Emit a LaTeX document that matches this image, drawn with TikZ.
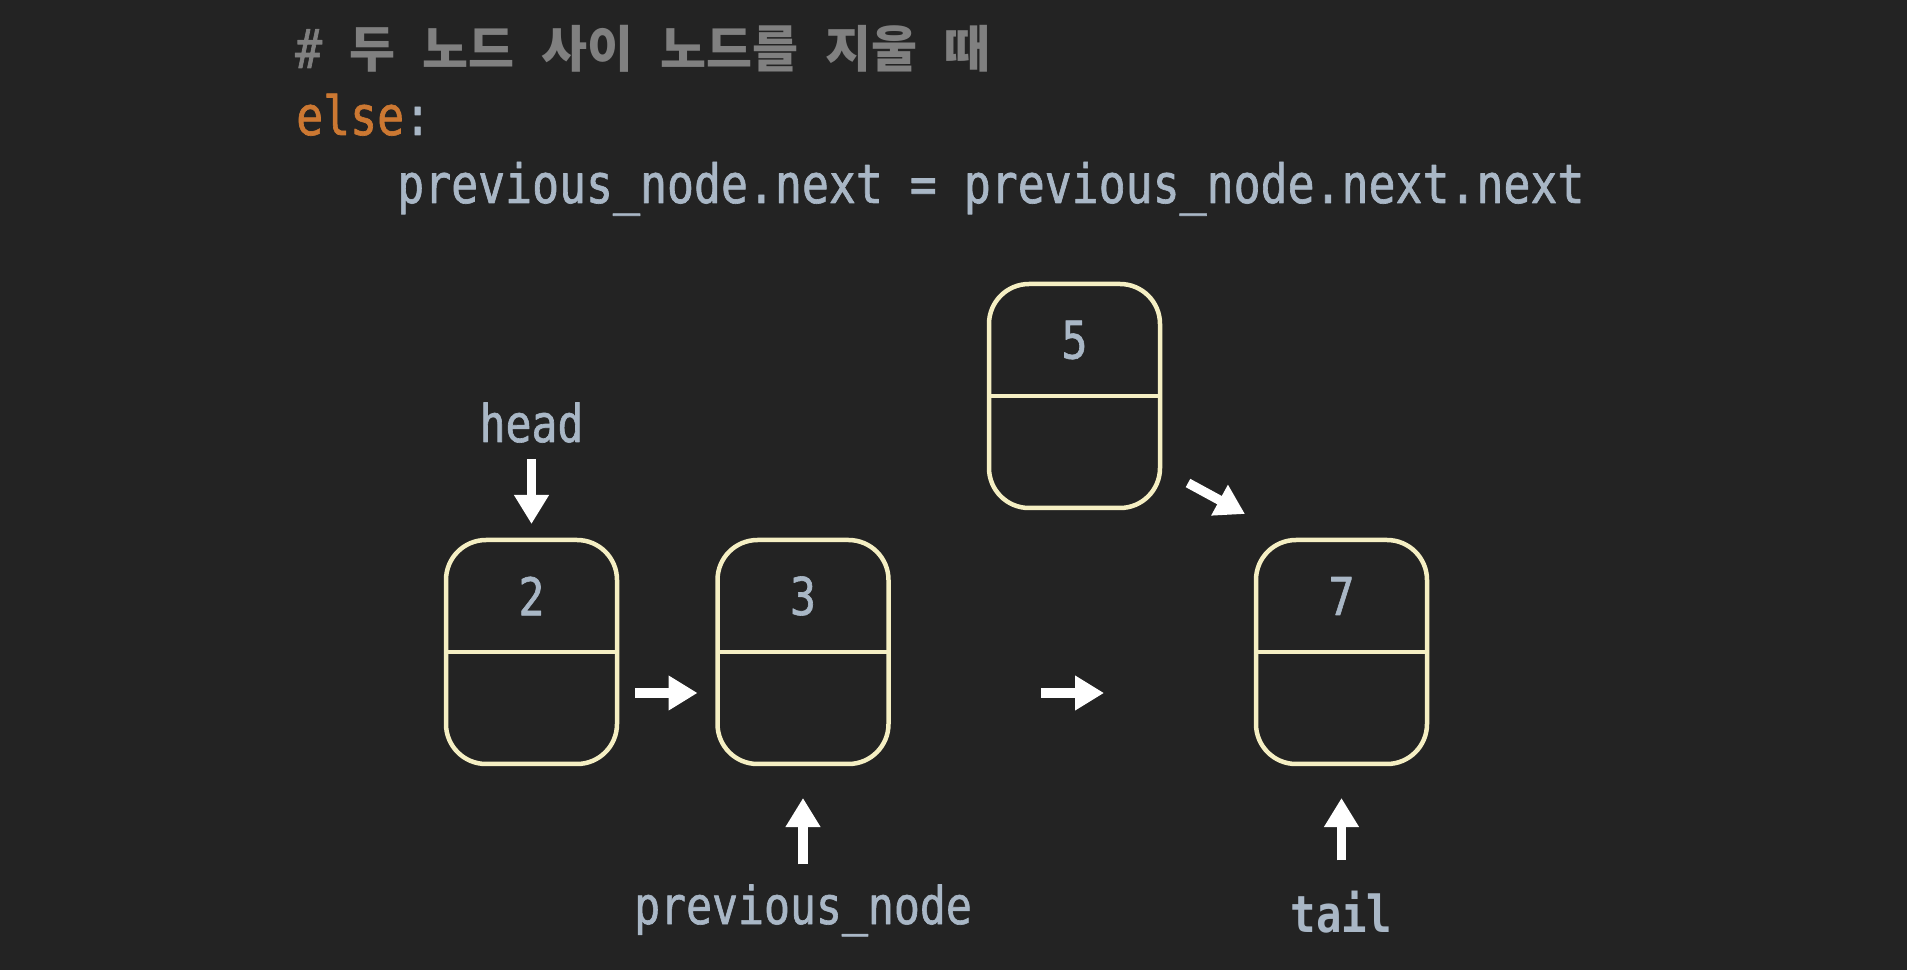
\documentclass[tikz,border=0pt]{standalone}
\usepackage{fontspec}
\usepackage{tikz}
\usetikzlibrary{calc}
\usetikzlibrary{arrows.meta}
\newfontfamily\codefont[FakeStretch=0.83,UprightFeatures={FakeBold=1.2}]{DejaVu Sans Mono}
\newfontfamily\kofont{Noto Sans CJK KR}
\newcommand\ko[1]{{\kofont\bfseries\fontsize{50}{60}\selectfont #1}}
\definecolor{bgdark}{HTML}{232323}
\definecolor{cellcol}{HTML}{F5EFC3}
\definecolor{codecol}{HTML}{A9B7C6}
\definecolor{kwcol}{HTML}{CC7832}
\definecolor{cmtcol}{HTML}{808080}
\tikzset{
  cell/.style={draw=cellcol,line width=4.5pt,rounded corners=40pt,minimum width=171pt,minimum height=224pt,inner sep=0pt,outer sep=0pt},
  cellline/.style={draw=cellcol,line width=4.5pt},
  num/.style={text=codecol,font=\codefont\fontsize{52}{60}\selectfont,inner sep=0pt},
  lbl/.style={text=codecol,font=\codefont\fontsize{52}{60}\selectfont,inner sep=0pt},
  codeline/.style={anchor=base west,inner sep=0pt,font=\codefont\fontsize{54}{60}\selectfont},
  ptr/.style={white,line width=9.5pt,-{Triangle[width=33pt,length=29pt]}}
}

\begin{document}
\begin{tikzpicture}[line cap=butt,line join=round,x=1pt,y=1pt]
\fill[bgdark] (0,0) rectangle (1907,970);
\useasboundingbox (0,0) rectangle (1907,970);
% code
\node[codeline,text=cmtcol] (cmt) at (295,902) {\#~\ko{두} \ko{노드} \ko{사이} \ko{노드를} \ko{지울} \ko{때}};
\node[codeline,text=codecol] (kw) at (296,835) {\textcolor{kwcol}{else}:};
\node[codeline,text=codecol] (stmt) at (397,767) {previous\_node.next = previous\_node.next.next};
% list cells
\foreach \v/\x/\y in {2/531.5/318,3/803/318,5/1074.5/574,7/1341.5/318}{
  \node[cell] (n\v) at (\x,\y) {};
  \draw[cellline] (n\v.west) -- (n\v.east);
  \node[num] at ($(n\v.north)!0.5!(n\v.center)$) {\v};
}
% labels
\node[lbl,anchor=base] (headlbl) at (531.5,528) {head};
\node[lbl,anchor=base] (prevlbl) at (803,46) {previous\_node};
\node[lbl,font=\codefont\bfseries\fontsize{51}{60}\selectfont,anchor=base] (taillbl) at (1341.5,38) {tail};
% pointers
\draw[ptr] ([yshift=-16pt]headlbl.south) -- ([yshift=16pt]n2.north);
\draw[ptr] ([yshift=20pt]prevlbl.north) -- ([yshift=-34pt]n3.south);
\draw[ptr] ([yshift=30pt]taillbl.north) -- ([yshift=-34pt]n7.south);
\draw[ptr] ([shift={(18pt,-41pt)}]n2.east) -- ([shift={(-20pt,-41pt)}]n3.west);
\draw[ptr] ([shift={(152.5pt,-41pt)}]n3.east) -- ([shift={(-152pt,-41pt)}]n7.west);
\draw[ptr] ([shift={(28pt,25pt)}]n5.south east) -- ([shift={(-11pt,26pt)}]n7.north west);
\end{tikzpicture}
\end{document}
